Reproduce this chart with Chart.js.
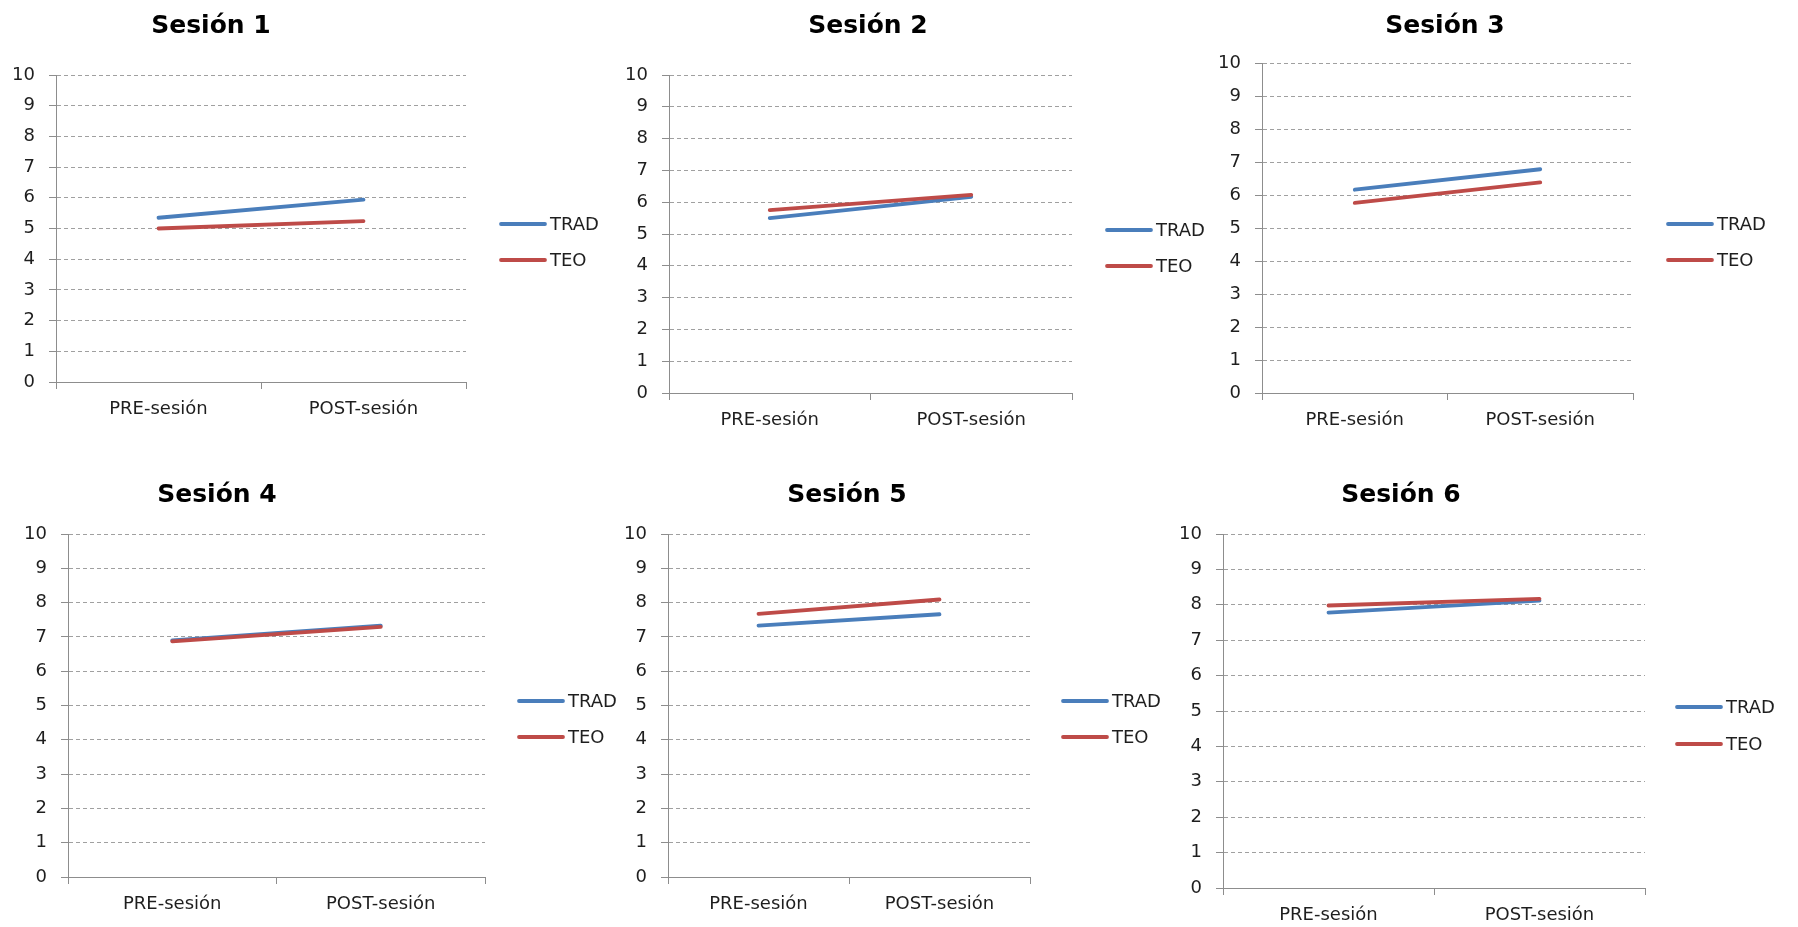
<!DOCTYPE html>
<html lang="es">
<head>
<meta charset="utf-8">
<title>Sesiones 1-6: PRE-sesión / POST-sesión</title>
<script src="https://cdn.jsdelivr.net/npm/chart.js@4/dist/chart.umd.min.js"></script>
<style>
  html, body { margin: 0; padding: 0; background: #ffffff; }
  body { position: relative; width: 1798px; height: 927px; overflow: hidden; }
  canvas { position: absolute; }
</style>
</head>
<body>
<script>
// ---- data ----
const categories = ['PRE-sesión', 'POST-sesión'];
const sessionTitles = ['Sesión 1', 'Sesión 2', 'Sesión 3', 'Sesión 4', 'Sesión 5', 'Sesión 6'];
const seriesNames = ['TRAD', 'TEO'];
const tradValues = [
  [5.35, 5.94],
  [5.50, 6.17],
  [6.16, 6.78],
  [6.90, 7.33],
  [7.33, 7.66],
  [7.78, 8.12]
];
const teoValues = [
  [5.00, 5.24],
  [5.75, 6.23],
  [5.76, 6.38],
  [6.87, 7.29],
  [7.67, 8.09],
  [7.98, 8.17]
];
const yMin = 0;
const yMax = 10;
const yStep = 1;

// ---- styles ----
const tradColor = '#4a7ebb';
const teoColor = '#be4b48';
const axisColor = '#8d8d8d';
const gridColor = '#a0a0a0';
const textColor = '#1e1e1e';
const tickFont = { family: '"DejaVu Sans", sans-serif', size: 18 };
const titleFont = 'bold 25px "DejaVu Sans", sans-serif';
const legendFont = '18px "DejaVu Sans", sans-serif';
const seriesLineWidth = 3.8;
const Y_AXIS_WIDTH = 50;
const X_AXIS_HEIGHT = 36;

// ---- page layout of the six panels (page pixels) ----
// canvas: [x, y, w, h]; plot: [left, top, right, bottom]
const panelLayout = [
  { canvas: [0, 0, 600, 450],      plot: [56, 75, 466, 382],     titleX: 211,  titleBase: 33,  legendX: 501,  legendY: 224, legendStep: 36 },
  { canvas: [600, 0, 640, 450],    plot: [669, 75, 1072, 393],   titleX: 868,  titleBase: 33,  legendX: 1107, legendY: 230, legendStep: 36 },
  { canvas: [1200, 0, 598, 450],   plot: [1262, 63, 1633, 393],  titleX: 1445, titleBase: 33,  legendX: 1668, legendY: 224, legendStep: 36 },
  { canvas: [0, 455, 620, 472],    plot: [68, 534, 485, 877],    titleX: 217,  titleBase: 502, legendX: 519,  legendY: 701, legendStep: 36 },
  { canvas: [600, 455, 590, 472],  plot: [668, 534, 1030, 877],  titleX: 847,  titleBase: 502, legendX: 1063, legendY: 701, legendStep: 36 },
  { canvas: [1170, 455, 628, 472], plot: [1223, 534, 1645, 888], titleX: 1401, titleBase: 502, legendX: 1677, legendY: 707, legendStep: 37 }
];

// Title above each panel and a line-sample legend to the right of the plot
const panelDecor = {
  id: 'panelDecor',
  afterDraw(chart, args, opts) {
    const ctx = chart.ctx;
    ctx.save();
    ctx.fillStyle = '#000000';
    ctx.font = titleFont;
    ctx.textAlign = 'center';
    ctx.textBaseline = 'alphabetic';
    ctx.fillText(opts.text, opts.titleX, opts.titleBase);

    chart.data.datasets.forEach((ds, i) => {
      const y = opts.legendY + i * opts.legendStep;
      ctx.strokeStyle = ds.borderColor;
      ctx.lineWidth = ds.borderWidth;
      ctx.lineCap = 'round';
      ctx.beginPath();
      ctx.moveTo(opts.legendX, y);
      ctx.lineTo(opts.legendX + 44, y);
      ctx.stroke();
      ctx.fillStyle = textColor;
      ctx.font = legendFont;
      ctx.textAlign = 'left';
      ctx.textBaseline = 'middle';
      ctx.fillText(ds.label, opts.legendX + 49, y + 1);
    });
    ctx.restore();
  }
};

function buildPanel(idx) {
  const lay = panelLayout[idx];
  const [cx, cy, cw, ch] = lay.canvas;
  const [pl, pt, pr, pb] = lay.plot;

  const canvas = document.createElement('canvas');
  canvas.width = cw;
  canvas.height = ch;
  canvas.style.left = cx + 'px';
  canvas.style.top = cy + 'px';
  canvas.style.width = cw + 'px';
  canvas.style.height = ch + 'px';
  document.body.appendChild(canvas);

  new Chart(canvas.getContext('2d'), {
    type: 'line',
    data: {
      labels: categories,
      datasets: [
        { label: seriesNames[0], data: tradValues[idx], borderColor: tradColor, backgroundColor: tradColor,
          borderWidth: seriesLineWidth, pointRadius: 0, pointHoverRadius: 0, tension: 0, borderCapStyle: 'round', order: 1 },
        { label: seriesNames[1], data: teoValues[idx], borderColor: teoColor, backgroundColor: teoColor,
          borderWidth: seriesLineWidth, pointRadius: 0, pointHoverRadius: 0, tension: 0, borderCapStyle: 'round', order: 0 }
      ]
    },
    options: {
      responsive: false,
      animation: false,
      devicePixelRatio: 1,
      events: [],
      layout: {
        padding: {
          left: (pl - cx) - Y_AXIS_WIDTH,
          top: pt - cy,
          right: (cx + cw) - pr,
          bottom: (cy + ch) - pb - X_AXIS_HEIGHT
        }
      },
      plugins: {
        legend: { display: false },
        tooltip: { enabled: false },
        title: { display: false },
        panelDecor: {
          text: sessionTitles[idx],
          titleX: lay.titleX - cx,
          titleBase: lay.titleBase - cy,
          legendX: lay.legendX - cx,
          legendY: lay.legendY - cy,
          legendStep: lay.legendStep
        }
      },
      scales: {
        x: {
          type: 'category',
          offset: true,
          grid: {
            display: true,
            offset: true,
            drawOnChartArea: false,
            drawTicks: true,
            tickLength: 7,
            tickColor: axisColor,
            color: axisColor
          },
          border: { display: true, color: axisColor, width: 1 },
          ticks: { font: tickFont, color: textColor, padding: 10, maxRotation: 0, autoSkip: false },
          afterFit(scale) { scale.height = X_AXIS_HEIGHT; }
        },
        y: {
          min: yMin,
          max: yMax,
          ticks: { stepSize: yStep, font: tickFont, color: textColor, padding: 14 },
          grid: {
            color: gridColor,
            lineWidth: 1,
            drawTicks: true,
            tickLength: 7,
            tickColor: axisColor,
            tickBorderDash: []
          },
          border: { display: true, color: axisColor, width: 1, dash: [4, 3] },
          afterFit(scale) { scale.width = Y_AXIS_WIDTH; }
        }
      }
    },
    plugins: [panelDecor]
  });
}

for (let i = 0; i < panelLayout.length; i++) {
  buildPanel(i);
}
</script>
</body>
</html>
